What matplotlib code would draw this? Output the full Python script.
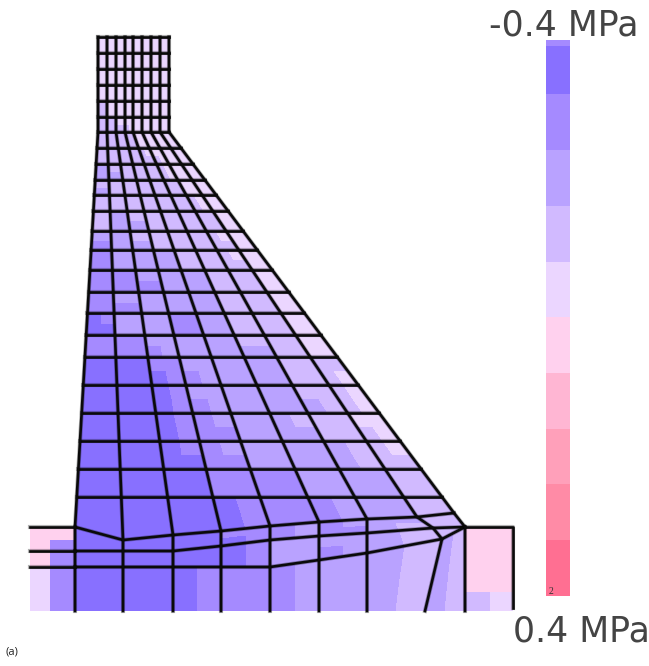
import numpy as np
import matplotlib
matplotlib.use("Agg")
import matplotlib.pyplot as plt
from matplotlib.colors import ListedColormap

# stress bands, from -0.4 MPa (top of the scale) to 0.4 MPa
band_colors = ["#8870FF", "#A58AFF", "#B9A2FF", "#D1BAFF", "#EBD6FF",
               "#FFD1EE", "#FFB6D3", "#FFA0BA", "#FF8BA6", "#FF6F92"]
scale_levels = [1, 0, 1, 2, 3, 4, 5, 6, 7, 8, 9]
scale_edges = [40, 46, 94, 150, 206, 262, 317, 373, 429, 484, 540, 596]
scale_x = [546, 570]

# mesh nodes (pixels)
top_x = [98, 107, 116, 125, 133, 142, 151, 160, 169]
kink_y = 132
row_y = [37, 53, 69, 85, 101, 117, 132, 148, 164, 180, 195, 211, 231, 250,
         270, 292, 313, 335, 357, 385, 413, 441, 469, 497]
line_a_x = [75, 123, 173, 221, 270, 319, 367, 417, 454]
line_a_y = [527, 540, 535, 531, 526, 522, 519, 517, 513]
line_b_x = [75, 123, 173, 221, 270, 319, 367, 433, 465]
line_b_y = [551, 551, 551, 546, 540, 536, 533, 528, 527]
line_c_x = [75, 123, 173, 221, 270, 319, 367, 442, 465]
line_c_y = [567, 567, 567, 567, 567, 560, 553, 539, 527]
bottom_x = [75, 123, 173, 221, 270, 319, 367, 425, 465]
bottom_y = 611

# band index per sub cell, two sub rows and two sub columns per element
field = [
    "4444444444444444", "4444444444444444",
    "4444444444444444", "4444444444444444",
    "4444444444444444", "4444444444444444",
    "4444444444444444", "4444444444444444",
    "3344444444444444", "3344444444444444",
    "3333444444444444", "3333333444444444",
    "3333333344444444", "3333333344444444",
    "3333333334444444", "3333333333344444",
    "2233333333344444", "2222333333344444",
    "3333333333334444", "2233333333334444",
    "3333333333333444", "3333333333333444",
    "3322333333333344", "3322223333333344",
    "2222333333333444", "1122223333333344",
    "1122222233333444", "1122222233333344",
    "1111222222333344", "1111112222333344",
    "1122222222333344", "1111222222333344",
    "0122221122333344", "0022221122333344",
    "1111222222333344", "1111122222223344",
    "0000112222223333", "0000011222223334",
    "0000012222223334", "0000011222222334",
    "0000011222233344", "0000011122223334",
    "0000011222222334", "0000001122222333",
    "0000001111222233", "0000001111222233",
    "0000000111122233", "0000000111122233",
    "0000001112122233", "0000000112112333",
    "0000000122222333", "0000000122122333",
    "0000011112222323", "0000011112222323",
]

# side blocks of the foundation
left_x = [30, 50, 75]
left_y = [527, 540, 551, 567, 611]
left_levels = [[5, 5], [5, 1], [5, 1], [4, 1]]
left_lines = [527, 551, 567]
right_x = [465, 490, 513]
right_y = [527, 592, 611]
right_levels = [[5, 5], [3, 4]]


def refine(a):
    # put a mid node between all nodes, both ways
    a = np.asarray(a, dtype=float)
    b = np.zeros((a.shape[0] * 2 - 1, a.shape[1]))
    b[::2] = a
    b[1::2] = (a[:-1] + a[1:]) / 2
    c = np.zeros((b.shape[0], b.shape[1] * 2 - 1))
    c[:, ::2] = b
    c[:, 1::2] = (b[:, :-1] + b[:, 1:]) / 2
    return c


def soft_line(x, y):
    # wide pale line under a dark one, the reference is a bit blurred
    ax.plot(x, y, color="#000000", lw=3.0, alpha=0.3, solid_joinstyle="round")
    ax.plot(x, y, color="#0a0a0a", lw=1.9, solid_joinstyle="round")


top_x = np.array(top_x, dtype=float)
a_x = np.array(line_a_x, dtype=float)
a_y = np.array(line_a_y, dtype=float)

xs = []
ys = []
for y in row_y:
    if y <= kink_y:
        xs.append(top_x)
    else:
        xs.append(top_x + (a_x - top_x) * (y - kink_y) / (a_y - kink_y))
    ys.append(np.full(9, float(y)))
xs += [a_x, np.array(line_b_x, float), np.array(line_c_x, float), np.array(bottom_x, float)]
ys += [a_y, np.array(line_b_y, float), np.array(line_c_y, float), np.full(9, float(bottom_y))]
X = np.array(xs)
Y = np.array(ys)

levels = np.array([[int(c) for c in row] for row in field])
cmap = ListedColormap(band_colors)
opts = dict(cmap=cmap, vmin=-0.5, vmax=9.5, shading="flat", antialiased=False)

fig = plt.figure(figsize=(6.49, 6.66), dpi=100)
ax = fig.add_axes([0, 0, 1, 1])
ax.set_xlim(0, 649)
ax.set_ylim(666, 0)
ax.axis("off")

ax.pcolormesh(refine(X), refine(Y), levels, **opts)
ax.pcolormesh(left_x, left_y, np.array(left_levels), **opts)
ax.pcolormesh(right_x, right_y, np.array(right_levels), **opts)
ax.pcolormesh(scale_x, scale_edges, np.array(scale_levels)[:, None], **opts)

for i in range(X.shape[0] - 1):
    soft_line(X[i], Y[i])
for j in range(X.shape[1]):
    soft_line(X[:, j], Y[:, j])
for y in left_lines:
    soft_line([left_x[0], left_x[-1]], [y, y])
soft_line([right_x[0], right_x[-1], right_x[-1]], [right_y[0], right_y[0], 608])

ax.text(489, 35, "-0.4 MPa", fontsize=25, color="#444444", family="DejaVu Sans",
        ha="left", va="baseline")
ax.text(513, 641, "0.4 MPa", fontsize=25, color="#444444", family="DejaVu Sans",
        ha="left", va="baseline")
ax.text(551, 594, "2", fontsize=7, color="#333333", family="Liberation Serif",
        ha="center", va="baseline")
ax.text(5, 655, "(a)", fontsize=8, color="#222222", family="Open Sans",
        ha="left", va="baseline")

fig.savefig("out.png", dpi=100)
